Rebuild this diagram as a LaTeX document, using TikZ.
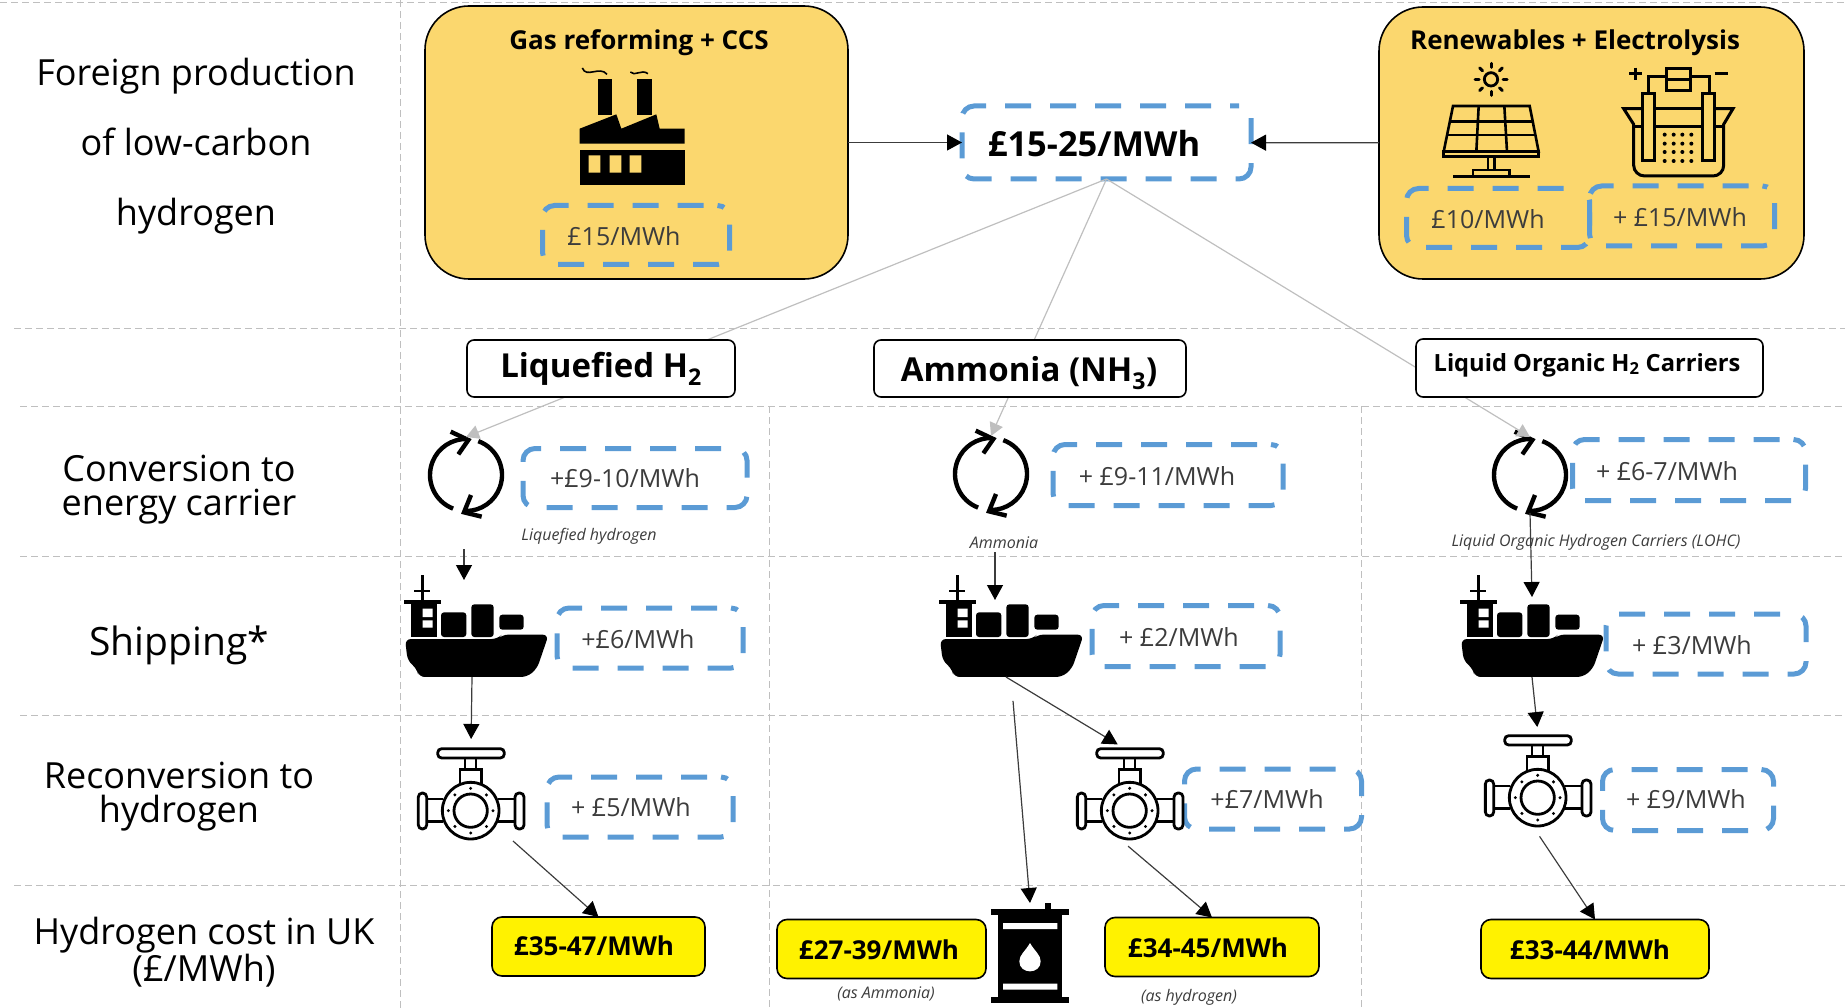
\documentclass[tikz,border=0pt]{standalone}
\usepackage{fontspec}
\setmainfont{Open Sans}
\usepackage{xcolor}
\usepackage{tikz}
\usetikzlibrary{positioning}
\usetikzlibrary{arrows.meta}
\definecolor{gold}{HTML}{FBD76E}
\definecolor{priceblue}{HTML}{5B9BD5}
\definecolor{gridgray}{HTML}{BFBFBF}
\definecolor{inkgray}{HTML}{3C3C3C}
\newcommand{\fsize}[1]{\fontsize{#1}{#1}\selectfont}

% icons, drawn in the units of the enlarged crops
\tikzset{
	iconunits/.style={x=0.3333pt,y=-0.3333pt},
	factory/.pic={
		\begin{scope}[iconunits,shift={(-697,-380)}]
		\fill (595,235) rectangle (637,345);
		\fill (713,235) rectangle (757,345);
		\fill (540,385) -- (650,342) -- (665,385) -- (770,342) -- (780,385) -- (855,385) -- (855,430) -- (540,430) -- cycle;
		\fill (540,448) rectangle (855,553);
		\fill[gold] (567,465) rectangle (602,517) (630,465) rectangle (665,517) (690,465) rectangle (725,517);
		\draw[line width=1.6] (548,203) .. controls (560,235) and (600,195) .. (622,222);
		\draw[line width=1.6] (692,215) .. controls (705,230) and (725,205) .. (745,220);
		\end{scope}
	},
	solar/.pic={
		\begin{scope}[iconunits,shift={(-422,-360)},line width=2.6]
		\draw[line width=2.8] (422,238) circle (20);
		\foreach \a in {0,45,...,315}
			\draw[line width=3,line cap=round] ([shift={(\a:36)}]422,238) -- ([shift={(\a:48)}]422,238);
		\draw (308,318) -- (538,318) -- (565,455) -- (280,455) -- cycle;
		\draw (298,365) -- (548,365) (290,405) -- (556,405);
		\draw (385,318) -- (378,455) (462,318) -- (470,455);
		\draw (280,455) rectangle (565,470);
		\draw (413,470) -- (413,510) (432,470) -- (432,510);
		\draw (368,528) -- (368,510) -- (478,510) -- (478,528);
		\draw (308,530) -- (538,530);
		\end{scope}
	},
	electrolyser/.pic={
		\begin{scope}[iconunits,shift={(-985,-365)},line width=3]
		\draw[line width=3.6] (838,220) -- (876,220) (857,202) -- (857,238);
		\draw[line width=3] (1095,220) -- (1135,220);
		\draw (897,280) -- (897,228) -- (950,228) (1022,228) -- (1078,228) -- (1078,280);
		\draw (950,205) rectangle (1022,270) (950,237) -- (1022,237);
		\draw (878,280) rectangle (915,480) (1058,280) rectangle (1095,480);
		\draw (878,325) -- (822,325) -- (852,372) -- (852,495) to[out=-90,in=180] (885,527) -- (1090,527) to[out=0,in=-90] (1122,495) -- (1122,372) -- (1150,325) -- (1095,325);
		\draw (915,325) -- (1058,325) (915,378) -- (1058,378) (852,378) -- (878,378) (1095,378) -- (1122,378);
		\foreach \x in {945,972,998,1025}
			\foreach \y in {403,430,455,482}
				\fill (\x,\y) circle (6);
		\end{scope}
	},
	cycle/.pic={
		\begin{scope}[line width=4.4]
		\draw ([shift={(249:36pt)}]0,0) arc[start angle=249,end angle=88,radius=36pt];
		\draw ([shift={(70:36pt)}]0,0) arc[start angle=70,end angle=-90,radius=36pt];
		\begin{scope}[iconunits,shift={(-228,-165)}]
		\draw (182,35) -- (235,60) -- (205,103);
		\draw (243,225) -- (222,277) -- (275,290);
		\end{scope}
		\end{scope}
	},
	ship/.pic={
		\begin{scope}[iconunits,shift={(-257,-617)}]
		\fill[rounded corners=6] (44,656) -- (322,656) -- (335,643) -- (475,643) -- (440,745) -- (410,770) -- (85,770) -- (80,745) -- (52,722) -- cycle;
		\fill[rounded corners=3] (152,576) rectangle (228,650);
		\fill[rounded corners=3] (243,552) rectangle (310,650);
		\fill[rounded corners=3] (327,583) rectangle (400,628);
		\fill (63,548) rectangle (140,650);
		\fill (40,538) rectangle (152,550);
		\fill (92,463) rectangle (102,540);
		\fill (72,508) rectangle (120,516);
		\fill[white] (97,565) rectangle (127,590) (97,600) rectangle (127,622);
		\end{scope}
	},
	valve/.pic={
		\begin{scope}[iconunits,shift={(-243,-253)},line width=2.8]
		\draw[rounded corners=4] (143,117) rectangle (343,145);
		\draw (225,145) -- (225,180) (258,145) -- (258,180);
		\draw (210,225) -- (210,180) -- (275,180) -- (275,225);
		\draw (160,268) -- (110,268) (160,335) -- (110,335);
		\draw (325,268) -- (375,268) (325,335) -- (375,335);
		\draw[rounded corners=4] (85,250) rectangle (110,358);
		\draw[rounded corners=4] (375,250) rectangle (402,358);
		\draw (242,303) circle (85) (242,303) circle (50);
		\foreach \a in {0,45,...,315}
			\fill ([shift={(\a:67)}]242,303) circle (5);
		\end{scope}
	},
	barrel/.pic={
		\begin{scope}[iconunits,shift={(-271,-760)}]
		\fill (175,640) rectangle (368,895);
		\fill (155,628) rectangle (388,647);
		\fill (155,893) rectangle (388,910);
		\fill (315,610) rectangle (333,630);
		\fill[white] (190,670) rectangle (353,688) (190,852) rectangle (353,870);
		\fill[white] (271,730) .. controls (285,755) and (303,765) .. (303,785) .. controls (303,825) and (239,825) .. (239,785) .. controls (239,765) and (257,755) .. (271,730) -- cycle;
		\end{scope}
	}
}

\begin{document}
\begin{tikzpicture}[x=1pt,y=-1pt]
	\useasboundingbox (0,0) rectangle (1845,1008);
	\tikzset{>={Triangle[length=15pt,width=16pt,black]}}
	\tikzset{gridline/.style={draw=gridgray,line width=1,dash pattern=on 7pt off 4pt}}
	\tikzset{sourcebox/.style={draw,line width=1.6,fill=gold,rounded corners=44,outer sep=0}}
	\tikzset{pricebox/.style={draw=priceblue,line width=5,dash pattern=on 26pt off 19pt,dash phase=31pt,rounded corners=12,outer sep=0}}
	\tikzset{pricetext/.style={text=inkgray,font=\fsize{25}}}
	\tikzset{carrierbox/.style={draw,line width=1.6,fill=white,rounded corners=7,outer sep=0}}
	\tikzset{costbox/.style={draw,line width=1.6,fill=yellow,rounded corners=10,outer sep=0,minimum height=59}}
	\tikzset{boldtext/.style={font=\bfseries\fsize{26}}}
	\tikzset{sidelabel/.style={align=center,text=black,font=\fontsize{36}{34}\selectfont}}
	\tikzset{caption/.style={text=inkgray,font=\itshape\fsize{16}}}
	\tikzset{iconbox/.style={inner sep=0,outer sep=0}}
	\tikzset{flow/.style={->,draw=inkgray,line width=1.2}}
	\tikzset{feed/.style={-{Triangle[length=13pt,width=14pt]},draw=gridgray,line width=1.2}}

	% Grid of the rows and columns
	\foreach \x/\startx in {3/0,329/14,406/20,556/20,715/20,885/14}
		\draw[gridline] (\startx,\x) -- (1845,\x);
	\draw[gridline] (400,0) -- (400,1008);
	\foreach \x in {769,1361}
		\draw[gridline] (\x,406) -- (\x,1008);

	% Row titles on the left
	\node[sidelabel] (rowForeign) at (196,146) {Foreign production\\[33pt]of low-carbon\\[36pt]hydrogen};
	\node[sidelabel] (rowConversion) at (179,490) {Conversion to\\energy carrier};
	\node[sidelabel,font=\fsize{39}] (rowShipping) at (179,645) {Shipping*};
	\node[sidelabel] (rowReconversion) at (179,797) {Reconversion to\\hydrogen};
	\node[sidelabel] (rowCost) at (204,952) {Hydrogen cost in UK\\(£/MWh)};

	% Foreign production
	\node (boxGas) at (636.5,142.5) [sourcebox,minimum width=423,minimum height=273] {};
	\node (boxRenew) at (1591.5,143) [sourcebox,minimum width=425,minimum height=272] {};
	\node[boldtext] (titleGas) at (639,43) {Gas reforming + CCS};
	\node[boldtext] (titleRenew) at (1575,43) {Renewables + Electrolysis};
	\node (iconFactory) at (632,127) [iconbox,minimum width=105,minimum height=118] {};
	\pic at (iconFactory) {factory};
	\node (iconSolar) at (1491,120) [iconbox,minimum width=96,minimum height=115] {};
	\pic at (iconSolar) {solar};
	\node (iconCell) at (1678,122) [iconbox,minimum width=110,minimum height=110] {};
	\pic at (iconCell) {electrolyser};
	\node (priceTop) at (1106.5,142.5) [pricebox,dash phase=17pt,minimum width=289,minimum height=73] {};
	\node[font=\bfseries\fsize{34.5}] (textTop) at (1094,144) {£15-25/MWh};

	% Conversion icons, the grey feeds run behind the carrier boxes
	\foreach \name/\x/\y in {cycleA/466/475,cycleB/991/474,cycleC/1530/475}{
		\node (\name) at (\x,\y) [iconbox,minimum width=76,minimum height=76] {};
		\pic at (\name) {cycle};
	}
	\foreach \name in {cycleA,cycleB,cycleC}
		\draw[feed] (priceTop.south) -- (\name.north);

	% Energy carriers
	\node (carrierLiquid) at (601,368.5) [carrierbox,minimum width=268,minimum height=57] {};
	\node[font=\bfseries\fsize{33}] (textLiquid) at (601,369) {Liquefied H\textsubscript{2}};
	\node (carrierAmmonia) at (1030,368.5) [carrierbox,minimum width=312,minimum height=57] {};
	\node[font=\bfseries\fsize{33}] (textAmmonia) at (1029,373) {Ammonia (NH\textsubscript{3})};
	\node (carrierLohc) at (1589.5,368) [carrierbox,minimum width=347,minimum height=58] {};
	\node[font=\bfseries\fsize{23.7}] (textLohc) at (1587,365) {Liquid Organic H\textsubscript{2} Carriers};

	% Dashed price tags
	\foreach \name/\bx/\by/\bw/\bh/\tx/\ty/\price in {
		Gas/636/235/187/59/624/236/£15,
		Solar/1498/218/183/59/1488/219/£10,
		Cell/1682/216/185/60/1680/217/+ £15,
		ConvA/635/478/224/59/625/478/+£9-10,
		ConvB/1168/475/230/61/1157/476/+ £9-11,
		ConvC/1689/470/233/61/1667/471/+ £6-7,
		ShipA/650/638/186/60/638/639/+£6,
		ShipB/1186/636/188/61/1179/637/+ £2,
		ShipC/1706/644/200/60/1692/645/+ £3,
		ValveA/640/807/186/60/631/807/+ £5,
		ValveB/1273/799/177/60/1267/799/+£7,
		ValveC/1688/800/171/61/1686/799/+ £9}{
		\node (price\name) at (\bx,\by) [pricebox,minimum width=\bw,minimum height=\bh] {};
		\node[pricetext] (text\name) at (\tx,\ty) {\price/MWh};
	}

	% Captions under the tags
	\node[caption] (noteLiquid) at (589,536) {Liquefied hydrogen};
	\node[caption] (noteAmmonia) at (1004,543) {Ammonia};
	\node[caption] (noteLohc) at (1596,542) {Liquid Organic  Hydrogen Carriers  (LOHC)};

	% Shipping, reconversion, barrel
	\foreach \name/\x in {shipA/476,shipB/1011,shipC/1532}{
		\node (\name) at (\x,626) [iconbox,minimum width=145,minimum height=102] {};
		\pic at (\name) {ship};
	}
	\foreach \name/\x/\y in {valveA/471/794,valveB/1130/794,valveC/1538/781}{
		\node (\name) at (\x,\y) [iconbox,minimum width=106,minimum height=94] {};
		\pic at (\name) {valve};
	}
	\node (barrelB) at (1030,953) [iconbox,minimum width=78,minimum height=100] {};
	\pic at (barrelB) {barrel};

	% Hydrogen cost in the UK
	\node (costA) at (598.5,946.5) [costbox,minimum width=213] {};
	\node[boldtext] (textCostA) at (594,946) {£35-47/MWh};
	\node (costAmmonia) at (881.5,949) [costbox,minimum width=209] {};
	\node[boldtext] (textCostAmmonia) at (879,950) {£27-39/MWh};
	\node (costB) at (1212,947) [costbox,minimum width=214] {};
	\node[boldtext] (textCostB) at (1208,948) {£34-45/MWh};
	\node (costC) at (1595,949) [costbox,minimum width=228] {};
	\node[boldtext] (textCostC) at (1590,950) {£33-44/MWh};
	\node[caption] (noteCostAmmonia) at (886,994) {(as Ammonia)};
	\node[caption] (noteCostB) at (1189,997) {(as hydrogen)};

	% Connectors
	\draw[flow] (boxGas) -- (priceTop);
	\draw[flow] (boxRenew) -- (priceTop);
	\draw[flow,shorten <=36pt] ([xshift=-2pt]cycleA.south) -- ([xshift=-12pt,yshift=-5pt]shipA.north);
	\draw[flow,shorten <=40pt] ([xshift=4pt]cycleB.south) -- ([xshift=-16pt,yshift=-25pt]shipB.north);
	\draw[flow] (cycleC.south) -- ([yshift=-22pt]shipC.north);
	\draw[flow,shorten >=8pt] ([xshift=-4pt]shipA.south) -- (valveA.north);
	\draw[flow,shorten >=5pt] ([xshift=-5pt]shipB.south) -- ([xshift=-8pt]valveB.north);
	\draw[flow,shorten <=24pt] (shipB.south) -- (barrelB.north);
	\draw[flow,shorten >=7pt] (shipC.south) -- (valveC.north);
	\draw[flow] ([xshift=42pt]valveA.south) -- (costA.north);
	\draw[flow,shorten <=8pt] ([xshift=-8pt]valveB.south) -- (costB.north);
	\draw[flow,shorten <=10pt] ([xshift=-4pt]valveC.south) -- (costC.north);
\end{tikzpicture}
\end{document}
